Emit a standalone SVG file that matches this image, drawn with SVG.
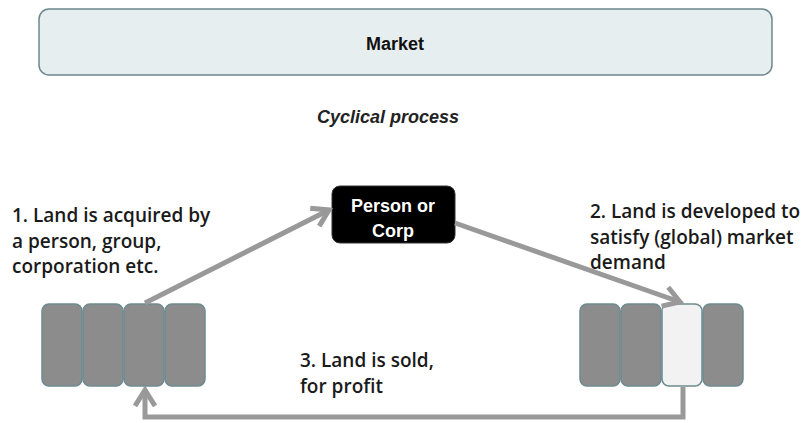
<svg xmlns="http://www.w3.org/2000/svg" width="805" height="423" viewBox="0 0 805 423">
<defs>
<style>
.lbl{font-family:"Open Sans","Liberation Sans",sans-serif;font-weight:600;font-size:19px;fill:#1a1a1a}
.blk{fill:#8c8c8c;stroke:#6c8a90;stroke-width:1.5}
.conn{fill:none;stroke:#999999;stroke-width:5}
.hd{font-family:"Liberation Sans",Arial,sans-serif;font-weight:bold}
</style>
<marker id="ah" viewBox="0 0 24 24" refX="20" refY="12" markerWidth="24" markerHeight="24" markerUnits="userSpaceOnUse" orient="auto">
<path d="M4,2 L20,12 L4,22" fill="none" stroke="#999999" stroke-width="5"/>
</marker>
</defs>
<rect width="805" height="423" fill="#ffffff"/>
<g id="market">
<rect x="39" y="9" width="733" height="66" rx="10" fill="#e6eef0" stroke="#6d878c" stroke-width="1.5"/>
<text class="hd" x="395" y="50" text-anchor="middle" font-size="18" fill="#111">Market</text>
</g>
<g id="cyclical">
<text class="hd" x="388" y="123" text-anchor="middle" font-style="italic" font-size="18" fill="#222">Cyclical process</text>
</g>
<g id="person">
<rect x="332" y="186" width="123" height="57" rx="8" fill="#000000" stroke="#333" stroke-width="1"/>
<text class="hd" x="393" y="212" text-anchor="middle" font-size="18" fill="#ffffff">Person or</text>
<text class="hd" x="393" y="237" text-anchor="middle" font-size="18" fill="#ffffff">Corp</text>
</g>
<g id="label1">
<text class="lbl" x="12" y="222">1. Land is acquired by</text>
<text class="lbl" x="12" y="248">a person, group,</text>
<text class="lbl" x="12" y="273">corporation etc.</text>
</g>
<g id="label2">
<text class="lbl" x="590" y="218">2. Land is developed to</text>
<text class="lbl" x="590" y="244">satisfy (global) market</text>
<text class="lbl" x="590" y="269">demand</text>
</g>
<g id="label3">
<text class="lbl" x="300" y="367">3. Land is sold,</text>
<text class="lbl" x="300" y="393">for profit</text>
</g>
<g id="land-left">
<rect class="blk" x="42" y="304" width="40" height="82" rx="7"/>
<rect class="blk" x="83" y="304" width="40" height="82" rx="7"/>
<rect class="blk" x="124" y="304" width="40" height="82" rx="7"/>
<rect class="blk" x="165" y="304" width="40" height="82" rx="7"/>
</g>
<g id="land-right">
<rect class="blk" x="580" y="304" width="40" height="82" rx="7"/>
<rect class="blk" x="621" y="304" width="40" height="82" rx="7"/>
<rect x="662" y="304" width="40" height="82" rx="7" fill="#f2f2f2" stroke="#6c8a90" stroke-width="1.5"/>
<rect class="blk" x="703" y="304" width="40" height="82" rx="7"/>
</g>
<g id="connectors">
<line class="conn" x1="145" y1="303" x2="329" y2="210" marker-end="url(#ah)"/>
<line class="conn" x1="455" y1="223" x2="680" y2="302" marker-end="url(#ah)"/>
<polyline class="conn" points="683,387 683,417 145,417 145,390" marker-end="url(#ah)"/>
</g>
</svg>
